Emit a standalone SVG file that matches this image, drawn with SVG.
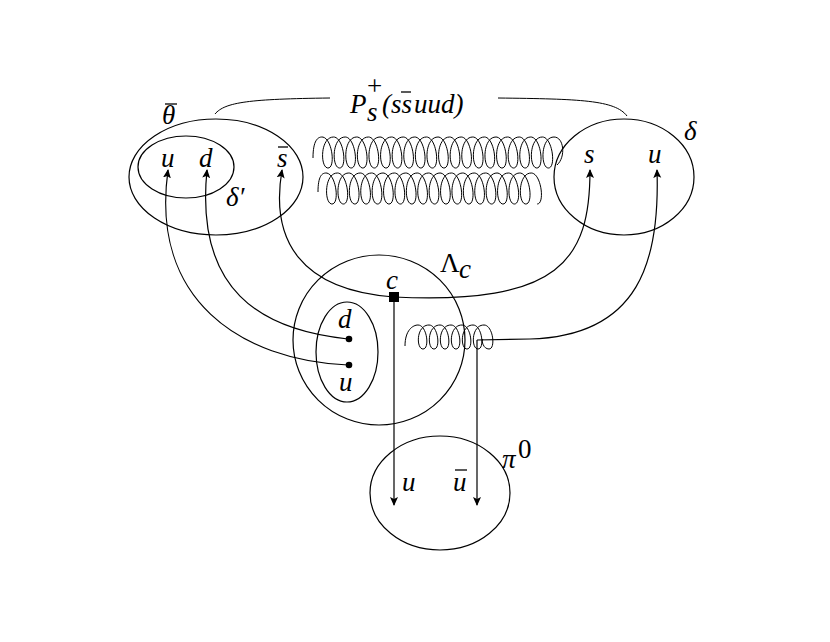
<svg xmlns="http://www.w3.org/2000/svg" width="830" height="642" viewBox="0 0 830 642">
<style>
.o{fill:none;stroke:#000;stroke-width:1.2}
.l{fill:none;stroke:#000;stroke-width:1.2}
.g{fill:none;stroke:#000;stroke-width:1}
.t{font-family:"Liberation Serif","DejaVu Serif",serif;font-style:italic;font-size:27px;fill:#000}
.n{font-style:normal}
.b{stroke:#000;stroke-width:1.3}
</style>
<defs>
<marker id="ah" markerWidth="10" markerHeight="10" refX="8" refY="5" orient="auto" markerUnits="userSpaceOnUse">
<path d="M0,1 L9,5 L0,9 L2,5 Z" fill="#000"/>
</marker>
</defs>
<rect width="830" height="642" fill="#fff"/>
<g id="brace">
<path class="g" d="M215,114 C225,102 250,99 330,98"/>
<path class="g" d="M498,98 C580,99 615,100 627,116"/>
</g>
<g id="theta"><ellipse class="o" cx="216" cy="177" rx="87" ry="58"/><text class="t" x="162" y="124">θ</text><line class="b" x1="165" y1="104" x2="177" y2="104"/></g>
<g id="deltaprime"><ellipse class="o" cx="186" cy="167" rx="48" ry="31"/><text class="t" x="226" y="206">δ′</text></g>
<g id="delta"><ellipse class="o" cx="624" cy="177" rx="70" ry="58"/><text class="t" x="684" y="140">δ</text></g>
<g id="lambda"><ellipse class="o" cx="379" cy="340" rx="86" ry="85"/><text class="t n" x="440" y="272">Λ</text><text class="t" x="459" y="278" font-size="19">c</text></g>
<g id="inner"><ellipse class="o" cx="347" cy="352" rx="31" ry="50"/></g>
<g id="pi0"><ellipse class="o" cx="440" cy="493" rx="70" ry="57"/><text class="t" x="502" y="468">π</text><text class="t n" x="518" y="458" font-size="19">0</text></g>
<g id="labels">
<text class="t" x="161" y="167">u</text>
<text class="t" x="199" y="167">d</text>
<text class="t" x="277" y="167">s</text><line class="b" x1="278" y1="147" x2="288" y2="147"/>
<text class="t" x="584" y="163">s</text>
<text class="t" x="648" y="163">u</text>
<text class="t" x="386" y="289">c</text>
<text class="t" x="338" y="328">d</text>
<text class="t" x="339" y="391">u</text>
<text class="t" x="402" y="491">u</text>
<text class="t" x="453" y="491">u</text><line class="b" x1="455" y1="470" x2="467" y2="470"/>
<text class="t" x="350" y="113">P</text><text class="t" x="367" y="121" font-size="17">s</text><text class="t n" x="367" y="95" font-size="17">+</text>
<text class="t" x="382" y="113">(ss</text><line class="b" x1="401" y1="92" x2="411" y2="92"/><text class="t" x="414" y="113">uud)</text>
</g>
<g id="gluons">
<path class="g" d="M313,158 C313,140 318,137 322,137 c10,0 14,31 6,31 c-8,0 -8,-31 5.6,-31 c10,0 14,31 6,31 c-8,0 -8,-31 5.6,-31 c10,0 14,31 6,31 c-8,0 -8,-31 5.6,-31 c10,0 14,31 6,31 c-8,0 -8,-31 5.6,-31 c10,0 14,31 6,31 c-8,0 -8,-31 5.6,-31 c10,0 14,31 6,31 c-8,0 -8,-31 5.6,-31 c10,0 14,31 6,31 c-8,0 -8,-31 5.6,-31 c10,0 14,31 6,31 c-8,0 -8,-31 5.6,-31 c10,0 14,31 6,31 c-8,0 -8,-31 5.6,-31 c10,0 14,31 6,31 c-8,0 -8,-31 5.6,-31 c10,0 14,31 6,31 c-8,0 -8,-31 5.6,-31 c10,0 14,31 6,31 c-8,0 -8,-31 5.6,-31 c10,0 14,31 6,31 c-8,0 -8,-31 5.6,-31 c10,0 14,31 6,31 c-8,0 -8,-31 5.6,-31 c10,0 14,31 6,31 c-8,0 -8,-31 5.6,-31 c10,0 14,31 6,31 c-8,0 -8,-31 5.6,-31 c10,0 14,31 6,31 c-8,0 -8,-31 5.6,-31 c10,0 14,31 6,31 c-8,0 -8,-31 5.6,-31 c10,0 14,31 6,31 c-8,0 -8,-31 5.6,-31 c10,0 14,31 6,31 c-8,0 -8,-31 5.6,-31 c10,0 12,20 3,28"/>
<path class="g" d="M318,192 C318,176 322,173 326,173 c10,0 14,31 6,31 c-8,0 -8,-31 5.4,-31 c10,0 14,31 6,31 c-8,0 -8,-31 5.4,-31 c10,0 14,31 6,31 c-8,0 -8,-31 5.4,-31 c10,0 14,31 6,31 c-8,0 -8,-31 5.4,-31 c10,0 14,31 6,31 c-8,0 -8,-31 5.4,-31 c10,0 14,31 6,31 c-8,0 -8,-31 5.4,-31 c10,0 14,31 6,31 c-8,0 -8,-31 5.4,-31 c10,0 14,31 6,31 c-8,0 -8,-31 5.4,-31 c10,0 14,31 6,31 c-8,0 -8,-31 5.4,-31 c10,0 14,31 6,31 c-8,0 -8,-31 5.4,-31 c10,0 14,31 6,31 c-8,0 -8,-31 5.4,-31 c10,0 14,31 6,31 c-8,0 -8,-31 5.4,-31 c10,0 14,31 6,31 c-8,0 -8,-31 5.4,-31 c10,0 14,31 6,31 c-8,0 -8,-31 5.4,-31 c10,0 14,31 6,31 c-8,0 -8,-31 5.4,-31 c10,0 14,31 6,31 c-8,0 -8,-31 5.4,-31 c10,0 14,31 6,31 c-8,0 -8,-31 5.4,-31 c10,0 14,31 6,31 c-8,0 -8,-31 5.4,-31 c10,0 14,31 6,31"/>
<path class="g" d="M405,346 C405,330 413,325 418,325 c9,0 12,24 5,24 c-7,0 -7,-24 6,-24 c9,0 12,24 5,24 c-7,0 -7,-24 6,-24 c9,0 12,24 5,24 c-7,0 -7,-24 6,-24 c9,0 12,24 5,24 c-7,0 -7,-24 6,-24 c9,0 12,24 5,24 c-7,0 -7,-24 6,-24 c9,0 12,24 5,24 c-7,0 -7,-24 6,-24 c9,0 12,24 5,24 c-6,0 -8,-9 -6,-10"/>
</g>
<g id="connectors">
<path class="l" d="M348,339 C260,330 195,290 207,170" marker-end="url(#ah)"/>
<path class="l" d="M348,365 C240,360 150,300 168,170" marker-end="url(#ah)"/>
<path class="l" d="M394,297 C300,290 270,240 282,170" marker-end="url(#ah)"/>
<path class="l" d="M394,297 C560,305 590,260 590,170" marker-end="url(#ah)"/>
<path class="l" d="M477,340 L530,339 C640,336 660,260 657,170" marker-end="url(#ah)"/>
<path class="l" d="M394,297 L394,505" marker-end="url(#ah)"/>
<path class="l" d="M477,340 L477,505" marker-end="url(#ah)"/>
<rect x="389" y="292" width="10" height="10" fill="#000"/>
<circle cx="349" cy="339" r="3.3" fill="#000"/>
<circle cx="349" cy="365" r="3.3" fill="#000"/>
</g>
</svg>
